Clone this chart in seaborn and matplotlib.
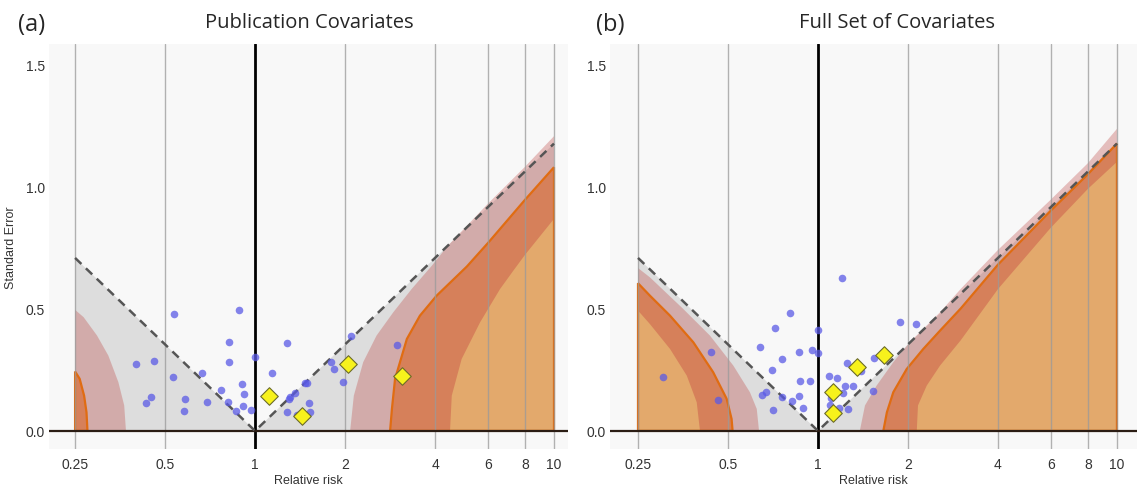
import numpy as np
import pandas as pd
import seaborn as sns
import matplotlib.pyplot as plt

# ---- panel (a): publication covariates ----
# observed studies (relative risk, standard error)
a_study_rr = [0.40, 0.46, 0.448, 0.431, 0.537, 0.532, 0.585, 0.577, 0.663, 0.689,
              0.768, 0.821, 0.821, 0.814, 0.886, 0.907, 0.919, 0.914, 0.864, 0.97,
              1.0, 1.143, 1.28, 1.276, 1.30, 1.31, 1.364, 1.47, 1.49, 1.516,
              1.53, 1.38, 1.79, 1.83, 1.97, 2.09, 2.99]
a_study_se = [0.274, 0.287, 0.14, 0.113, 0.477, 0.222, 0.13, 0.082, 0.237, 0.12,
              0.168, 0.365, 0.283, 0.12, 0.496, 0.192, 0.151, 0.101, 0.082, 0.086,
              0.304, 0.237, 0.36, 0.078, 0.131, 0.14, 0.153, 0.197, 0.197, 0.113,
              0.078, 0.065, 0.281, 0.255, 0.2, 0.388, 0.352]
# highlighted studies (yellow diamonds)
a_new_rr = [1.117, 1.436, 2.04, 3.11]
a_new_se = [0.143, 0.061, 0.275, 0.226]

# contour boundaries
a_left_pink_rr = [0.25, 0.267, 0.296, 0.323, 0.349, 0.365, 0.37]
a_left_pink_se = [0.495, 0.465, 0.39, 0.308, 0.199, 0.104, 0.0]
a_left_orange_rr = [0.25, 0.259, 0.268, 0.273, 0.275]
a_left_orange_se = [0.243, 0.213, 0.144, 0.076, 0.0]
a_right_pink_rr = [2.08, 2.14, 2.30, 2.55, 2.90, 3.34, 3.90, 4.4, 6.0, 8.0, 10.0]
a_right_pink_se = [0.0, 0.144, 0.281, 0.39, 0.485, 0.58, 0.675, 0.755, 0.928, 1.08, 1.205]
a_right_orange_rr = [2.83, 2.87, 2.94, 3.10, 3.22, 3.56, 4.05, 5.11, 6.03, 8.0, 10.0]
a_right_orange_se = [0.0, 0.09, 0.213, 0.308, 0.376, 0.471, 0.553, 0.672, 0.77, 0.945, 1.078]
a_right_tan_rr = [4.49, 4.55, 4.91, 5.66, 6.6, 7.31, 8.0, 10.0]
a_right_tan_se = [0.0, 0.144, 0.294, 0.444, 0.58, 0.655, 0.72, 0.867]

# ---- panel (b): full set of covariates ----
b_study_rr = [0.302, 0.439, 0.463, 0.64, 0.648, 0.67, 0.703, 0.707, 0.718, 0.756,
              0.756, 0.804, 0.817, 0.862, 0.864, 0.87, 0.889, 0.942, 0.955, 1.0,
              1.0, 1.086, 1.094, 1.105, 1.154, 1.175, 1.206, 1.21, 1.228, 1.25,
              1.263, 1.313, 1.389, 1.527, 1.536, 1.885, 2.13]
b_study_se = [0.221, 0.323, 0.128, 0.345, 0.147, 0.161, 0.247, 0.086, 0.42, 0.292,
              0.14, 0.484, 0.121, 0.324, 0.142, 0.204, 0.093, 0.204, 0.332, 0.414,
              0.318, 0.226, 0.105, 0.134, 0.218, 0.094, 0.626, 0.153, 0.184, 0.277,
              0.091, 0.185, 0.244, 0.163, 0.298, 0.446, 0.436]
b_new_rr = [1.659, 1.354, 1.125, 1.12]
b_new_se = [0.309, 0.26, 0.161, 0.072]

b_left_pink_rr = [0.25, 0.274, 0.354, 0.435, 0.521, 0.592, 0.624, 0.635]
b_left_pink_se = [0.666, 0.628, 0.499, 0.39, 0.267, 0.158, 0.09, 0.0]
b_left_orange_rr = [0.25, 0.274, 0.32, 0.383, 0.446, 0.495, 0.514, 0.518]
b_left_orange_se = [0.604, 0.553, 0.471, 0.362, 0.24, 0.131, 0.049, 0.0]
b_left_tan_rr = [0.25, 0.274, 0.32, 0.364, 0.393, 0.403]
b_left_tan_se = [0.492, 0.437, 0.335, 0.226, 0.117, 0.0]
b_right_pink_rr = [1.38, 1.436, 1.57, 1.786, 2.03, 2.31, 2.56, 3.0, 4.0, 6.0, 8.0, 10.0]
b_right_pink_se = [0.0, 0.104, 0.185, 0.281, 0.363, 0.431, 0.485, 0.58, 0.74, 0.945, 1.095, 1.235]
b_right_orange_rr = [1.654, 1.70, 1.786, 1.98, 2.25, 2.56, 3.0, 4.0, 6.0, 8.0, 10.0]
b_right_orange_se = [0.0, 0.076, 0.158, 0.253, 0.335, 0.41, 0.5, 0.68, 0.90, 1.05, 1.175]
b_right_tan_rr = [2.14, 2.16, 2.31, 2.56, 3.0, 4.0, 6.0, 8.0, 10.0]
b_right_tan_se = [0.0, 0.104, 0.185, 0.267, 0.37, 0.58, 0.83, 0.99, 1.10]

x_ticks = [0.25, 0.5, 1, 2, 4, 6, 8, 10]
x_tick_labels = ["0.25", "0.5", "1", "2", "4", "6", "8", "10"]
y_ticks = [0.0, 0.5, 1.0, 1.5]
y_tick_labels = ["0.0", "0.5", "1.0", "1.5"]

RR_MIN, RR_MAX = 0.25, 10.0
GREY = "#dddddd"
PINK = "#c0504d"
SALMON = "#d6805a"
TAN = "#e3a96c"
ORANGE = "#e06c12"

sns.set_style("white")
plt.rcParams["font.family"] = ["Liberation Sans", "DejaVu Sans"]


def close_left(rr, se):
    # region runs from the curve out to the left edge (rr = 0.25)
    return list(rr) + [RR_MIN], list(se) + [0.0]


def close_right(rr, se):
    # region runs from the curve out to the right edge (rr = 10)
    return list(rr) + [RR_MAX], list(se) + [0.0]


def draw_regions(ax, pink, orange, tan, closer):
    if pink is not None:
        x, y = closer(*pink)
        ax.fill(x, y, color=PINK, alpha=0.35, lw=0, zorder=2)
    if orange is not None:
        x, y = closer(*orange)
        ax.fill(x, y, color=SALMON, lw=0, zorder=3)
    if tan is not None:
        x, y = closer(*tan)
        ax.fill(x, y, color=TAN, lw=0, zorder=4)
    if orange is not None:
        x, y = closer(*orange)
        ax.fill(x, y, facecolor="none", edgecolor=ORANGE, lw=1.6, zorder=5)


def draw_panel(ax, study, new, left, right, xlim):
    ax.set_facecolor("#f8f8f8")
    ax.set_xscale("log")

    # 95% pseudo confidence limits: outside is shaded grey
    edge = np.array([RR_MIN, 1.0, RR_MAX])
    limit = np.abs(np.log(edge)) / 1.96
    ax.fill([RR_MIN, RR_MIN, 1.0], [0, limit[0], 0], color=GREY, lw=0, zorder=1)
    ax.fill([1.0, RR_MAX, RR_MAX], [0, limit[2], 0], color=GREY, lw=0, zorder=1)

    draw_regions(ax, *left, close_left)
    draw_regions(ax, *right, close_right)

    for v in x_ticks:
        if v != 1:
            ax.axvline(v, color="#9a9a9a", lw=1.0, alpha=0.75, zorder=6)
    ax.axvline(1, color="black", lw=2.0, zorder=7)
    ax.axhline(0, color="#2b1d14", lw=1.6, zorder=7)
    ax.plot(edge, limit, ls=(0, (3.5, 2.5)), color="#555555", lw=1.8, zorder=7)

    sns.scatterplot(x=study[0], y=study[1], ax=ax, color="#5a5ae6", alpha=0.75,
                    s=30, linewidth=0, zorder=8)
    sns.scatterplot(x=new[0], y=new[1], ax=ax, marker="D", color="#f7f21c",
                    edgecolor="#6b6b2a", linewidth=0.8, s=80, zorder=9)

    ax.set_xlim(*xlim)
    ax.set_ylim(-0.074, 1.582)
    ax.minorticks_off()
    ax.set_xticks(x_ticks, x_tick_labels)
    ax.set_yticks(y_ticks, y_tick_labels)
    ax.tick_params(length=0, labelsize=10, colors="#333333")
    ax.tick_params(axis="x", pad=6)
    ax.tick_params(axis="y", pad=3)
    for s in ax.spines.values():
        s.set_visible(False)
    ax.set_xlabel("Relative risk", fontsize=9, color="#333333", labelpad=2)
    ax.set_ylabel("")


fig = plt.figure(figsize=(11.37, 4.89), dpi=100)
ax_a = fig.add_axes([49 / 1137, 39 / 489, 519 / 1137, 405 / 489])
ax_b = fig.add_axes([610 / 1137, 39 / 489, 527 / 1137, 405 / 489])

draw_panel(ax_a, (a_study_rr, a_study_se), (a_new_rr, a_new_se),
           ((a_left_pink_rr, a_left_pink_se), (a_left_orange_rr, a_left_orange_se), None),
           ((a_right_pink_rr, a_right_pink_se), (a_right_orange_rr, a_right_orange_se),
            (a_right_tan_rr, a_right_tan_se)),
           (0.2045, 11.14))
draw_panel(ax_b, (b_study_rr, b_study_se), (b_new_rr, b_new_se),
           ((b_left_pink_rr, b_left_pink_se), (b_left_orange_rr, b_left_orange_se),
            (b_left_tan_rr, b_left_tan_se)),
           ((b_right_pink_rr, b_right_pink_se), (b_right_orange_rr, b_right_orange_se),
            (b_right_tan_rr, b_right_tan_se)),
           (0.2015, 11.67))

ax_a.set_ylabel("Standard Error", fontsize=9, color="#333333", labelpad=6)

fig.text(18 / 1137, 1 - 25 / 489, "(a)", fontsize=17, family="Open Sans", va="center")
fig.text(596 / 1137, 1 - 25 / 489, "(b)", fontsize=17, family="Open Sans", va="center")
fig.text(309 / 1137, 1 - 23 / 489, "Publication Covariates", fontsize=14.5,
         family="Open Sans", ha="center", va="center")
fig.text(897 / 1137, 1 - 23 / 489, "Full Set of Covariates", fontsize=14.5,
         family="Open Sans", ha="center", va="center")

fig.savefig("out.png", dpi=100, facecolor="white")
